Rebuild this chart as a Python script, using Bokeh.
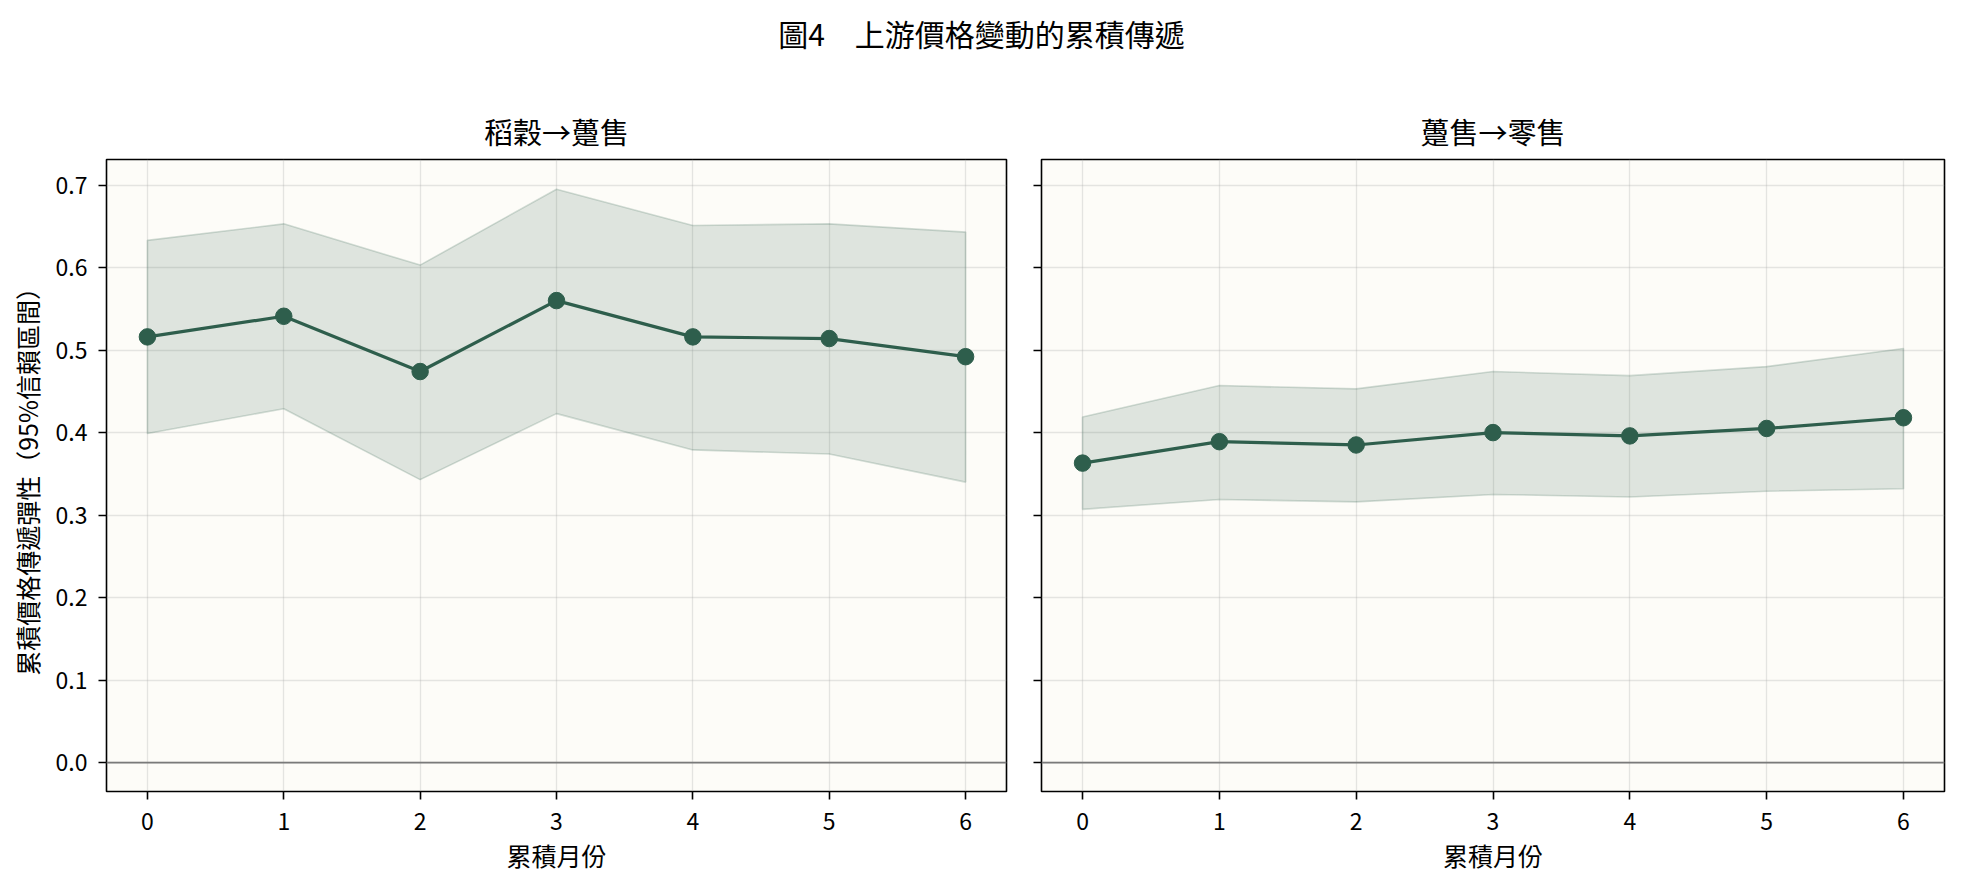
from bokeh.plotting import figure
from bokeh.layouts import column, row
from bokeh.models import Range1d, FixedTicker, PrintfTickFormatter, CustomJSTickFormatter, Span, Label
from bokeh.embed import file_html
from bokeh.resources import INLINE

# data
months = [0, 1, 2, 3, 4, 5, 6]

paddy_est = [0.516, 0.541, 0.474, 0.560, 0.516, 0.514, 0.492]
paddy_hi = [0.633, 0.653, 0.603, 0.695, 0.651, 0.653, 0.643]
paddy_lo = [0.399, 0.429, 0.343, 0.423, 0.379, 0.374, 0.340]

whole_est = [0.363, 0.389, 0.385, 0.400, 0.396, 0.405, 0.418]
whole_hi = [0.419, 0.457, 0.453, 0.474, 0.469, 0.480, 0.502]
whole_lo = [0.307, 0.319, 0.316, 0.325, 0.322, 0.329, 0.332]

y_ticks = [0.0, 0.1, 0.2, 0.3, 0.4, 0.5, 0.6, 0.7]

main_title = "圖4　上游價格變動的累積傳遞"
panel_titles = ["稻穀→躉售", "躉售→零售"]
x_label = "累積月份"
y_label = "累積價格傳遞彈性（95%信賴區間）"

FONT = "Noto Sans CJK TC"
GREEN = "#2E5E4C"


def make_panel(title, est, hi, lo, first):
    p = figure(width=1016 if first else 938, height=813,
               toolbar_location=None, output_backend="svg",
               x_range=Range1d(-0.3, 6.3), y_range=Range1d(-0.035, 0.731),
               min_border_left=106 if first else 25, min_border_right=10,
               min_border_top=91, min_border_bottom=90)
    p.background_fill_color = "#FDFCF8"
    p.border_fill_color = "white"
    p.outline_line_color = "black"
    p.outline_line_width = 1.6

    p.title.text = title
    p.title.align = "center"
    p.title.text_font = FONT
    p.title.text_font_size = "29px"
    p.title.text_font_style = "normal"
    p.title.text_color = "black"
    p.title.standoff = 16

    p.grid.grid_line_color = "#b0b0b0"
    p.grid.grid_line_alpha = 0.32
    p.grid.grid_line_width = 1.3

    p.xaxis.ticker = FixedTicker(ticks=months)
    p.yaxis.ticker = FixedTicker(ticks=y_ticks)
    p.xgrid.ticker = FixedTicker(ticks=months)
    p.ygrid.ticker = FixedTicker(ticks=y_ticks)
    if first:
        p.yaxis.formatter = PrintfTickFormatter(format="%.1f")
        p.yaxis.axis_label = y_label
    else:
        p.yaxis.formatter = CustomJSTickFormatter(code="return ''")
    p.xaxis.axis_label = x_label

    for ax in (p.xaxis, p.yaxis):
        ax.axis_line_color = None
        ax.major_tick_in = 0
        ax.major_tick_out = 8
        ax.major_tick_line_width = 1.6
        ax.major_tick_line_color = "black"
        ax.minor_tick_line_color = None
        ax.major_label_text_font = FONT
        ax.major_label_text_font_size = "23px"
        ax.major_label_text_color = "black"
        ax.axis_label_text_font = FONT
        ax.axis_label_text_font_size = "25px"
        ax.axis_label_text_font_style = "normal"
        ax.axis_label_text_color = "black"
    p.xaxis.major_label_standoff = 13
    p.yaxis.major_label_standoff = 11
    p.xaxis.axis_label_standoff = 4
    p.yaxis.axis_label_standoff = 8

    p.add_layout(Span(location=0, dimension="width", line_color="#7a7a7a",
                      line_width=1.6))

    p.patch(months + months[::-1], hi + lo[::-1],
            fill_color=GREEN, fill_alpha=0.15,
            line_color=GREEN, line_alpha=0.2, line_width=1.6)
    p.line(months, est, line_color=GREEN, line_width=3.2)
    p.scatter(months, est, size=16.5, fill_color=GREEN, line_color=GREEN)
    return p


p1 = make_panel(panel_titles[0], paddy_est, paddy_hi, paddy_lo, True)
p2 = make_panel(panel_titles[1], whole_est, whole_hi, whole_lo, False)

head = figure(width=1954, height=68, toolbar_location=None, output_backend="svg",
              min_border=0, x_range=Range1d(0, 1), y_range=Range1d(0, 1))
head.axis.visible = False
head.grid.visible = False
head.outline_line_color = None
head.add_layout(Label(x=981, y=36, x_units="screen", y_units="screen",
                      text=main_title, text_align="center", text_baseline="middle",
                      text_font=FONT, text_font_size="30px", text_color="black"))

p = column(head, row(p1, p2))

open("out.html", "w").write(file_html(p, INLINE))
